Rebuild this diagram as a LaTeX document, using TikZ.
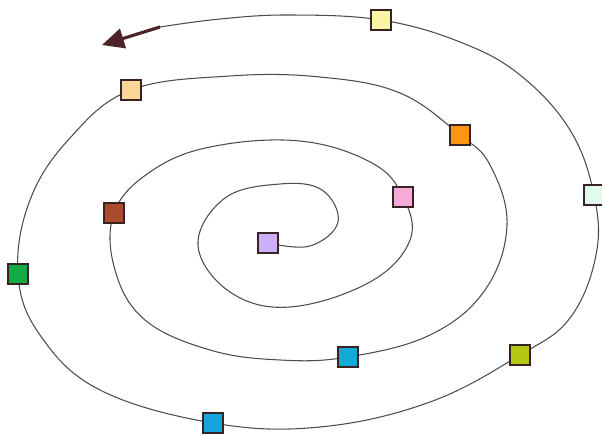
\documentclass[tikz,border=0pt]{standalone}
\usepackage{xcolor}
\usepackage{tikz}
\usetikzlibrary{arrows.meta,backgrounds}
\definecolor{edgedark}{RGB}{55,35,35}
\definecolor{arrowbrown}{RGB}{75,35,40}
\definecolor{clilac}{RGB}{205,175,250}
\definecolor{cpink}{RGB}{245,170,215}
\definecolor{cbrown}{RGB}{170,75,45}
\definecolor{ccyan}{RGB}{20,170,215}
\definecolor{corange}{RGB}{250,150,20}
\definecolor{cgreen}{RGB}{20,170,70}
\definecolor{cblue}{RGB}{20,165,225}
\definecolor{colive}{RGB}{180,200,20}
\definecolor{cmint}{RGB}{225,250,235}
\definecolor{cyellow}{RGB}{250,245,165}
\definecolor{ctan}{RGB}{250,215,150}

\begin{document}
\begin{tikzpicture}[x=0.02cm, y=-0.02cm]
    \tikzstyle{sq}=[draw=edgedark, line width=1.2pt, minimum size=0.4cm, inner sep=0pt]
    \tikzstyle{spiral}=[gray!60!black, line width=0.6pt]
    \tikzstyle{arrow}=[-{Triangle[length=0.44cm, width=0.4cm]}, line width=1.8pt, arrowbrown]

    \useasboundingbox (0,0) rectangle (602,435);

    % squares along the spiral, from the centre outwards
    \node[sq, fill=clilac]  (lilac)  at (268,243) {};
    \node[sq, fill=cpink]   (pink)   at (403,197) {};
    \node[sq, fill=cbrown]  (brown)  at (114,213) {};
    \node[sq, fill=ccyan]   (cyan)   at (348,357) {};
    \node[sq, fill=corange] (orange) at (460,135) {};
    \node[sq, fill=ctan]    (tan)    at (131,90) {};
    \node[sq, fill=cgreen]  (green)  at (18,274) {};
    \node[sq, fill=cblue]   (blue)   at (213,423) {};
    \node[sq, fill=colive]  (olive)  at (520,355) {};
    \node[sq, fill=cmint]   (mint)   at (594,195) {};
    \node[sq, fill=cyellow] (yellow) at (381,20) {};
    \coordinate (tail) at (160,27);
    \coordinate (tip)  at (102,45);

    \begin{scope}[on background layer]
      \draw[spiral] plot[smooth, tension=0.65] coordinates {
        (lilac) (310,246) (338,222) (322,190) (280,184) (225,198) (198,245)
        (230,292) (290,307) (370,282) (410,240) (pink)
        (372,163) (300,141) (210,147) (150,172) (brown)
        (115,270) (145,320) (210,350) (280,360) (cyan)
        (430,335) (485,290) (507,225) (490,165) (orange)
        (400,93) (320,77) (230,76) (tan)
        (70,138) (30,200) (green)
        (40,335) (100,390) (blue)
        (320,427) (430,402) (olive)
        (570,318) (596,255) (mint)
        (570,130) (520,75) (460,42) (yellow)
        (290,15) (220,19) (tail)
      };
    \end{scope}

    \draw[arrow] (tail) -- (tip);
  \end{tikzpicture}
\end{document}
